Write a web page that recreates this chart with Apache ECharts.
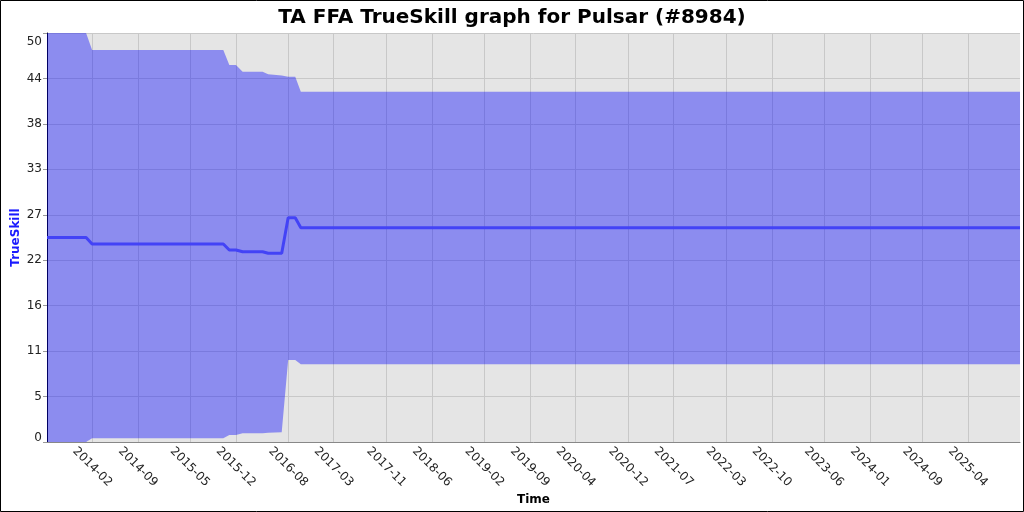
<!DOCTYPE html>
<html><head><meta charset="utf-8">
<script src="https://cdn.jsdelivr.net/npm/echarts@6/dist/echarts.min.js"></script>
<style>html,body{margin:0;padding:0;background:#fff}#c{width:1024px;height:512px}</style>
</head><body><div id="c"></div>
<script>
// ---- data ----
const dates = ['2013-07-05','2014-01-03','2014-01-31','2015-10-04','2015-11-01','2015-12-02','2016-01-02','2016-04-04','2016-04-30','2016-07-02','2016-08-01','2016-09-03','2016-09-29','2025-11-30'];
const mu    = [25.0, 25.0, 24.2, 24.2, 23.47, 23.47, 23.25, 23.25, 23.07, 23.07, 27.42, 27.42, 26.2, 26.2];
const upper = [50.0, 50.0, 47.92, 47.92, 46.09, 46.09, 45.27, 45.27, 44.95, 44.8, 44.66, 44.66, 42.82, 42.82];
const lower = [0.0, 0.0, 0.45, 0.45, 0.86, 0.86, 1.06, 1.06, 1.12, 1.19, 10.02, 10.02, 9.5, 9.5];
const xTickDates = ['2014-02-01','2014-09-01','2015-05-01','2015-12-01','2016-08-01','2017-03-01','2017-11-01','2018-06-01','2019-02-01','2019-09-01','2020-04-01','2020-12-01','2021-07-01','2022-03-01','2022-10-01','2023-06-01','2024-01-01','2024-09-01','2025-04-01'];
const yTickValues = [0, 5.5556, 11.1111, 16.6667, 22.2222, 27.7778, 33.3333, 38.8889, 44.4444, 50];
const yTickLabels = ['0','5','11','16','22','27','33','38','44','50'];
const xMin = '2013-07-05', xMax = '2025-11-30';

const toTs = s => { const p = s.split('-').map(Number); return new Date(p[0], p[1] - 1, p[2]).getTime(); };
const xTicks = xTickDates.map(toTs);
const pad = n => (n < 10 ? '0' : '') + n;
const FONT = 'DejaVu Sans';

const chart = echarts.init(document.getElementById('c'), null, {renderer: 'canvas'});
chart.setOption({
  animation: false,
  backgroundColor: '#ffffff',
  title: {
    text: 'TA FFA TrueSkill graph for Pulsar (#8984)',
    left: 'center', top: 3,
    textStyle: {fontFamily: FONT, fontSize: 20, fontWeight: 'bold', color: '#000'}
  },
  graphic: [{
    type: 'rect', silent: true, z: 100,
    shape: {x: 0.5, y: 0.5, width: 1023, height: 511},
    style: {fill: 'none', stroke: '#000', lineWidth: 1}
  }],
  grid: {left: 47, right: 4, top: 33, bottom: 70, show: true, backgroundColor: '#e5e5e5', borderWidth: 0,
         containLabel: false, outerBoundsMode: 'none'},
  xAxis: {
    type: 'value', min: toTs(xMin), max: toTs(xMax),
    name: 'Time', nameLocation: 'middle', nameGap: 52, nameMoveOverlap: false,
    nameTextStyle: {fontFamily: FONT, fontSize: 12, fontWeight: 'bold', color: '#000'},
    axisLine: {show: true, onZero: false, lineStyle: {color: '#888', width: 1}},
    axisTick: {show: false, customValues: xTicks},
    axisLabel: {
      customValues: xTicks, rotate: -45, align: 'center', verticalAlign: 'middle', margin: 25,
      fontFamily: FONT, fontSize: 12, color: '#222', hideOverlap: false,
      formatter: v => { const d = new Date(v); return d.getFullYear() + '-' + pad(d.getMonth() + 1); }
    },
    splitLine: {show: true, lineStyle: {color: '#c8c8c8', width: 1}}
  },
  yAxis: {
    type: 'value', min: 0, max: 50,
    name: 'TrueSkill', nameLocation: 'middle', nameGap: 25, nameRotate: 90, nameMoveOverlap: false,
    nameTextStyle: {fontFamily: FONT, fontSize: 12, fontWeight: 'bold', color: '#1a1aff'},
    axisLine: {show: true, onZero: false, lineStyle: {color: '#000', width: 1}},
    axisTick: {show: true, length: 4, customValues: yTickValues, lineStyle: {color: '#999'}},
    axisLabel: {
      customValues: yTickValues, margin: 5, fontFamily: FONT, fontSize: 12, color: '#222',
      formatter: v => {
        const i = yTickValues.findIndex(t => Math.abs(t - v) < 1e-3);
        const s = i >= 0 ? yTickLabels[i] : '';
        if (i === yTickValues.length - 1) return '{t|' + s + '}';
        if (i === 0) return '{b|' + s + '}';
        return s;
      },
      rich: {
        t: {fontFamily: FONT, fontSize: 12, color: '#222', padding: [18, 0, 0, 0]},
        b: {fontFamily: FONT, fontSize: 12, color: '#222', padding: [0, 0, 8, 0]}
      }
    },
    splitLine: {show: true, lineStyle: {color: '#c8c8c8', width: 1}}
  },
  series: [
    {
      name: 'band', type: 'custom', silent: true, z: 1, clip: true,
      encode: {x: 0, y: 1},
      data: [[toTs(dates[0]), lower[0]]],
      renderItem: (params, api) => {
        const pts = [];
        for (let i = 0; i < dates.length; i++) pts.push(api.coord([toTs(dates[i]), upper[i]]));
        for (let i = dates.length - 1; i >= 0; i--) pts.push(api.coord([toTs(dates[i]), lower[i]]));
        return {type: 'polygon', shape: {points: pts}, style: {fill: 'rgba(0,0,255,0.39)'}};
      }
    },
    {
      name: 'mu', type: 'line', symbol: 'none', z: 5,
      lineStyle: {width: 3, color: '#4343f6'},
      data: dates.map((d, i) => [toTs(d), mu[i]])
    }
  ]
});
</script></body></html>
